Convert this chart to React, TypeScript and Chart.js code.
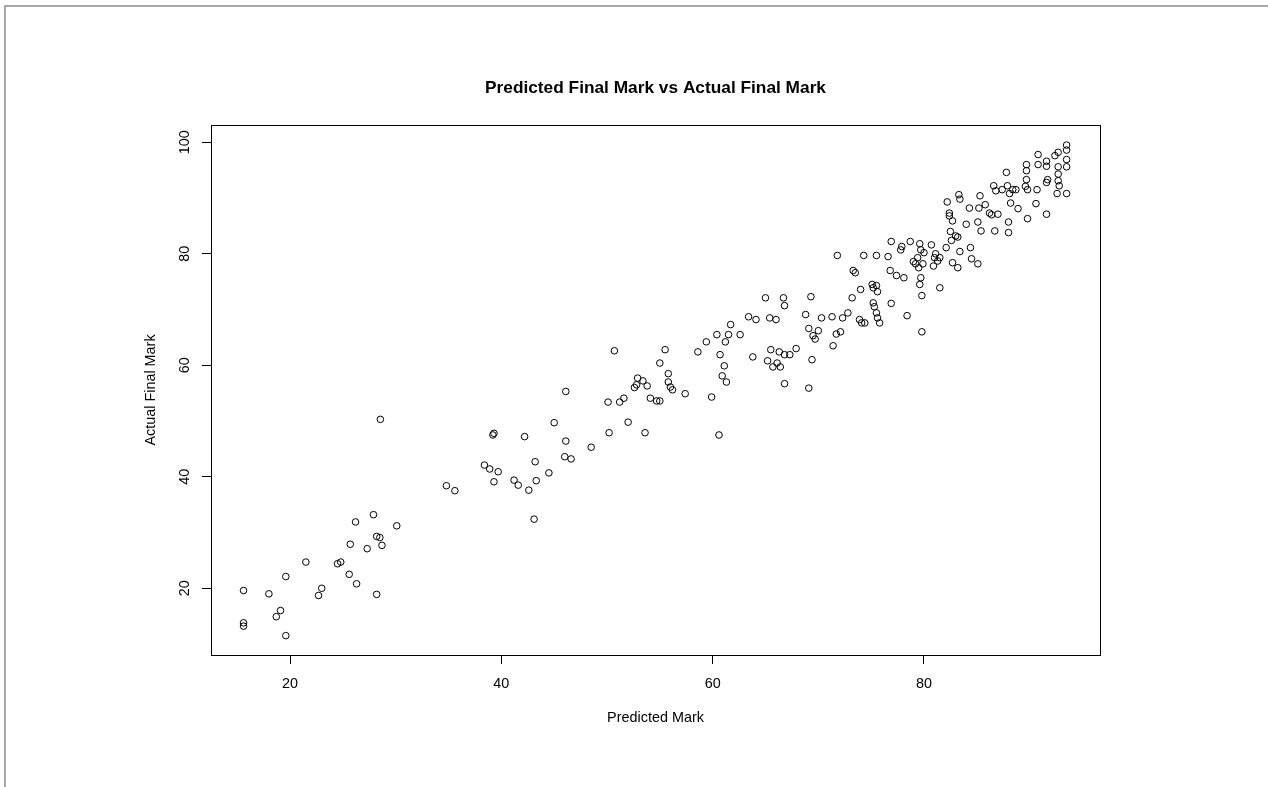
import React, { useEffect, useRef } from "react";
import { Chart, registerables } from "chart.js";

Chart.register(...registerables);

const chartTitle = "Predicted Final Mark vs Actual Final Mark";
const xAxisTitle = "Predicted Mark";
const yAxisTitle = "Actual Final Mark";
const xTickValues = [20, 40, 60, 80];
const yTickValues = [20, 40, 60, 80, 100];

const predicted = [
  28.55, 15.6, 15.6, 15.6, 18.0, 19.1, 18.7, 19.6, 19.6, 21.5, 22.7, 23.0, 24.5, 24.8, 25.6, 25.7, 26.2, 26.3, 27.3, 27.9, 28.2, 28.5, 28.7, 28.2, 30.1,
  34.8, 35.6, 38.4, 38.9, 39.2, 39.3, 39.3, 39.7, 41.2, 41.6, 42.2, 42.6, 43.2, 43.1, 43.3, 44.5, 45.0, 46.1, 46.1, 46.0, 46.6, 48.5,
  50.1, 50.2, 50.7, 51.2, 51.6, 52.0, 52.6, 52.8, 52.9, 53.4, 53.6, 53.8, 54.1, 54.7, 55.0, 55.0, 55.5, 55.8, 55.8, 56.0, 56.2, 57.4,
  58.6, 59.4, 59.9, 60.4, 60.6, 60.7, 60.9, 61.2, 61.1, 61.3, 61.5, 61.7, 62.6, 63.4, 63.8, 64.1, 65.0, 65.2, 65.4, 65.5, 65.7, 66.0,
  66.1, 66.3, 66.4, 66.7, 66.8, 66.8, 66.8, 67.3, 67.9, 68.8, 69.1, 69.3, 69.4, 69.1, 69.5, 69.7, 70.0, 70.3, 71.3, 71.4, 71.7, 71.8,
  72.1, 72.3, 72.8, 73.2, 73.3, 73.5, 73.9, 74.0, 74.1, 74.3, 74.4, 75.1, 75.2, 75.2, 75.3, 75.5, 75.5, 75.6, 75.5, 75.6, 75.8,
  76.6, 76.8, 76.9, 76.9, 77.4, 77.8, 77.9, 78.1, 78.4, 78.7, 79.0, 79.2, 79.4, 79.5, 79.6, 79.6, 79.7, 79.8, 79.8, 79.7, 79.9, 80.0,
  80.7, 80.9, 81.0, 81.1, 81.3, 81.5, 81.5, 82.1, 82.2, 82.4, 82.4, 82.5, 82.6, 82.7, 82.7, 83.0, 83.2, 83.2, 83.4, 83.3, 83.4,
  84.0, 84.3, 84.4, 84.5, 85.1, 85.1, 85.2, 85.3, 85.4, 85.8, 86.2, 86.4, 86.7, 86.6, 86.8, 87.0, 87.4, 87.8, 87.9, 88.0, 88.0,
  88.1, 88.2, 88.4, 88.7, 88.9, 89.6, 89.7, 89.7, 89.7, 89.8, 89.8, 90.6, 90.7, 90.8, 90.8, 91.6, 91.6, 91.6, 91.6, 91.7,
  92.4, 92.7, 92.7, 92.7, 92.6, 92.7, 92.8, 93.5, 93.5, 93.5, 93.5, 93.5,
];

const actual = [
  50.3, 19.6, 13.8, 13.2, 19.0, 16.0, 14.9, 22.1, 11.5, 24.7, 18.7, 20.0, 24.4, 24.7, 22.5, 27.9, 31.9, 20.8, 27.1, 33.2, 29.3, 29.1, 27.7, 18.9, 31.2,
  38.4, 37.5, 42.1, 41.4, 47.5, 47.8, 39.1, 40.9, 39.4, 38.5, 47.2, 37.6, 42.7, 32.4, 39.3, 40.7, 49.7, 55.3, 46.4, 43.6, 43.2, 45.3,
  53.4, 47.9, 62.6, 53.4, 54.1, 49.8, 56.0, 56.5, 57.7, 57.2, 47.9, 56.3, 54.1, 53.6, 53.6, 60.4, 62.8, 58.5, 57.0, 56.1, 55.6, 54.9,
  62.4, 64.2, 54.3, 65.5, 47.5, 61.9, 58.1, 64.2, 59.9, 57.0, 65.5, 67.3, 65.5, 68.7, 61.5, 68.2, 72.1, 60.8, 68.5, 62.8, 59.7, 68.2,
  60.4, 62.4, 59.7, 72.1, 70.7, 61.9, 56.7, 61.9, 63.0, 69.1, 66.6, 72.3, 61.0, 55.9, 65.3, 64.7, 66.2, 68.5, 68.7, 63.5, 65.6, 79.7,
  66.0, 68.5, 69.4, 72.1, 77.0, 76.6, 68.2, 73.6, 67.6, 79.7, 67.6, 74.5, 73.9, 71.2, 70.5, 79.7, 74.3, 73.2, 69.4, 68.5, 67.6,
  79.5, 77.0, 82.2, 71.1, 76.1, 80.7, 81.3, 75.7, 68.9, 82.2, 78.6, 78.2, 79.3, 77.5, 81.8, 74.5, 80.7, 72.5, 66.0, 75.7, 78.2, 80.2,
  81.6, 77.8, 79.3, 80.0, 78.7, 79.3, 73.9, 81.1, 89.3, 87.3, 86.8, 84.0, 82.4, 78.4, 85.9, 83.2, 83.0, 77.5, 80.4, 90.6, 89.8,
  85.3, 88.2, 81.1, 79.1, 85.7, 78.2, 88.2, 90.4, 84.1, 88.8, 87.3, 87.0, 84.1, 92.2, 91.3, 87.1, 91.5, 94.6, 92.2, 85.7, 83.8,
  90.8, 89.1, 91.5, 91.5, 88.1, 92.1, 96.0, 94.9, 93.3, 91.5, 86.3, 89.0, 91.5, 97.8, 96.0, 92.8, 96.6, 95.7, 87.1, 93.3,
  97.6, 94.3, 98.2, 95.6, 90.8, 93.1, 92.2, 90.8, 98.6, 99.5, 96.9, 95.6,
];

const FONT = "'Liberation Sans', Arial, Helvetica, sans-serif";

const framePlugin = {
  id: "rFrame",
  beforeDraw(chart: any) {
    const ctx = chart.ctx;
    ctx.save();
    ctx.fillStyle = "#ffffff";
    ctx.fillRect(0, 0, chart.width, chart.height);
    ctx.strokeStyle = "#8a8a8a";
    ctx.lineWidth = 1.5;
    ctx.beginPath();
    ctx.moveTo(5, chart.height);
    ctx.lineTo(5, 6);
    ctx.lineTo(chart.width, 6);
    ctx.stroke();
    ctx.restore();
  },
  afterDraw(chart: any) {
    const { left, top, right, bottom } = chart.chartArea;
    const ctx = chart.ctx;
    ctx.save();
    ctx.strokeStyle = "#000000";
    ctx.lineWidth = 1;
    ctx.strokeRect(left + 0.5, top + 0.5, right - left, bottom - top);
    ctx.fillStyle = "#000000";
    ctx.font = `bold 17.3px ${FONT}`;
    ctx.textAlign = "center";
    ctx.textBaseline = "middle";
    ctx.fillText(chartTitle, (left + right) / 2, 88);
    ctx.restore();
  },
};

export default function App() {
  const ref = useRef<HTMLCanvasElement | null>(null);

  useEffect(() => {
    document.body.style.margin = "0";
    const canvas = ref.current!;
    const points = predicted.map((x, i) => ({ x, y: actual[i] }));
    const chart = new Chart(canvas, {
      type: "scatter",
      data: {
        datasets: [
          {
            data: points,
            pointStyle: "circle",
            pointRadius: 3.3,
            pointHoverRadius: 3.3,
            borderColor: "#000000",
            backgroundColor: "rgba(0,0,0,0)",
            borderWidth: 1,
          },
        ],
      },
      options: {
        responsive: false,
        animation: false,
        events: [],
        layout: { padding: { left: 0, right: 168, top: 125, bottom: 0 } },
        plugins: {
          legend: { display: false },
          tooltip: { enabled: false },
          title: { display: false },
        },
        scales: {
          x: {
            type: "linear",
            position: "bottom",
            min: 12.52,
            max: 96.66,
            afterFit: (s: any) => {
              s.height = 132;
            },
            afterBuildTicks: (s: any) => {
              s.ticks = xTickValues.map((v) => ({ value: v }));
            },
            border: { display: false },
            grid: {
              drawOnChartArea: false,
              drawTicks: true,
              tickLength: 9,
              tickColor: "#000000",
              tickWidth: 1,
              color: "#000000",
            },
            ticks: {
              color: "#000000",
              font: { family: FONT, size: 14.4 },
              padding: 11,
              maxRotation: 0,
              minRotation: 0,
              autoSkip: false,
            },
            title: {
              display: true,
              text: xAxisTitle,
              color: "#000000",
              font: { family: FONT, size: 14.4 },
              padding: { top: 0, bottom: 60.4 },
            },
          },
          y: {
            type: "linear",
            position: "left",
            min: 8.03,
            max: 103.1,
            afterFit: (s: any) => {
              s.width = 211;
            },
            afterBuildTicks: (s: any) => {
              s.ticks = yTickValues.map((v) => ({ value: v }));
            },
            border: { display: false },
            grid: {
              drawOnChartArea: false,
              drawTicks: true,
              tickLength: 9,
              tickColor: "#000000",
              tickWidth: 1,
              color: "#000000",
            },
            ticks: {
              color: "#000000",
              font: { family: FONT, size: 14.4 },
              padding: 5,
              minRotation: 90,
              maxRotation: 90,
              crossAlign: "center",
              autoSkip: false,
            },
            title: {
              display: true,
              text: yAxisTitle,
              color: "#000000",
              font: { family: FONT, size: 14.4 },
              padding: { top: 141.9, bottom: 0 },
            },
          },
        },
      },
      plugins: [framePlugin],
    } as any);
    return () => chart.destroy();
  }, []);

  return (
    <div style={{ position: "fixed", left: 0, top: 0, width: 1268, height: 787, background: "#fff" }}>
      <canvas ref={ref} width={1268} height={787} style={{ width: 1268, height: 787, display: "block" }} />
    </div>
  );
}
